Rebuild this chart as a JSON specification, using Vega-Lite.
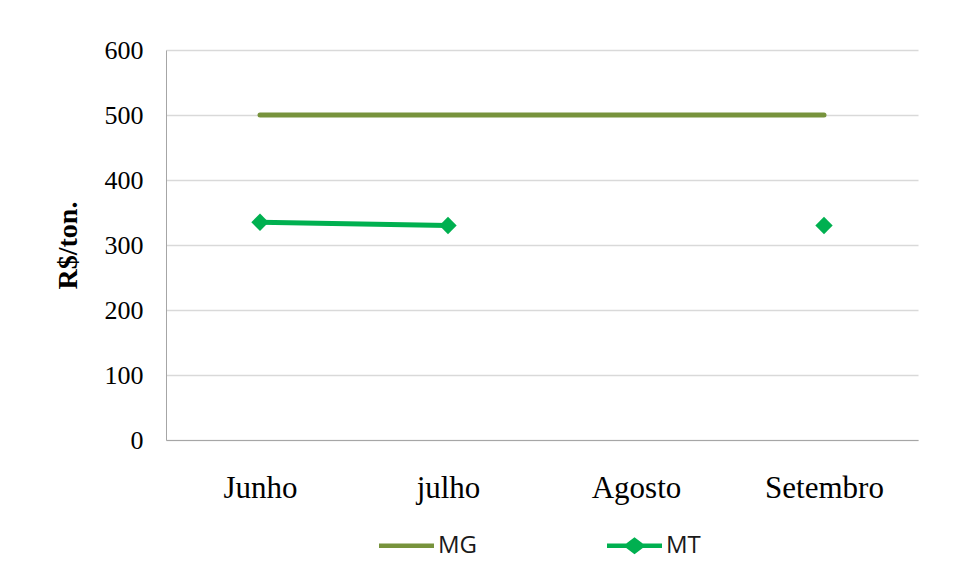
{
  "$schema": "https://vega.github.io/schema/vega-lite/v6.json",
  "width": 752,
  "height": 390,
  "autosize": "none",
  "padding": {"left": 166, "top": 50, "right": 40, "bottom": 140},
  "background": "white",
  "data": {
    "values": [
      {"mes": "Junho", "estado": "MG", "valor": 500},
      {"mes": "julho", "estado": "MG", "valor": 500},
      {"mes": "Agosto", "estado": "MG", "valor": 500},
      {"mes": "Setembro", "estado": "MG", "valor": 500},
      {"mes": "Junho", "estado": "MT", "valor": 335},
      {"mes": "julho", "estado": "MT", "valor": 330},
      {"mes": "Agosto", "estado": "MT", "valor": null},
      {"mes": "Setembro", "estado": "MT", "valor": 330}
    ]
  },
  "encoding": {
    "x": {
      "field": "mes", "type": "nominal",
      "sort": ["Junho", "julho", "Agosto", "Setembro"],
      "scale": {"paddingInner": 0, "paddingOuter": 0},
      "axis": {
        "title": null, "labelAngle": 0, "ticks": false,
        "labelFont": "Liberation Serif", "labelFontSize": 31, "labelColor": "#000",
        "labelPadding": 33, "domainColor": "#a6a6a6", "domainWidth": 1, "grid": false
      }
    },
    "y": {
      "field": "valor", "type": "quantitative",
      "scale": {"domain": [0, 600]},
      "axis": {
        "title": "R$/ton.", "titleFont": "Liberation Serif", "titleFontSize": 28,
        "titleFontWeight": "bold", "titleColor": "#000", "titlePadding": 22,
        "values": [0, 100, 200, 300, 400, 500, 600],
        "ticks": false, "labelFont": "Liberation Serif", "labelFontSize": 26,
        "labelColor": "#000", "labelPadding": 23,
        "domainColor": "#a6a6a6", "gridColor": "#d9d9d9", "gridWidth": 1.3
      }
    }
  },
  "layer": [
    {
      "transform": [{"filter": "datum.estado == 'MG'"}],
      "mark": {"type": "line", "strokeWidth": 5, "strokeCap": "round", "color": "#77933C"}
    },
    {
      "transform": [{"filter": "datum.estado == 'MT'"}],
      "mark": {"type": "line", "strokeWidth": 5, "strokeCap": "round", "color": "#00B050", "invalid": "break-paths-filter-domains"}
    },
    {
      "transform": [{"filter": "datum.estado == 'MT' && isValid(datum.valor)"}],
      "mark": {"type": "point", "shape": "diamond", "filled": true, "opacity": 1, "size": 300, "color": "#00B050"}
    },
    {
      "transform": [{"filter": "datum.valor > 10000"}],
      "mark": {"type": "point", "filled": true, "opacity": 1},
      "encoding": {
        "shape": {
          "field": "estado", "type": "nominal",
          "scale": {
            "domain": ["MG", "MT"],
            "range": [
              "M-1,-0.08L1,-0.08L1,0.08L-1,0.08Z",
              "M-1,-0.08L-0.3,-0.08L0,-0.31L0.3,-0.08L1,-0.08L1,0.08L0.3,0.08L0,0.31L-0.3,0.08L-1,0.08Z"
            ]
          },
          "legend": {
            "title": null, "orient": "none", "direction": "horizontal",
            "legendX": 213, "legendY": 468,
            "symbolSize": 3025, "symbolStrokeWidth": 0,
            "labelFont": "Open Sans", "labelFontSize": 24, "labelColor": "#1a1a1a",
            "labelOffset": 4, "columnPadding": 129
          }
        },
        "color": {
          "field": "estado", "type": "nominal",
          "scale": {"domain": ["MG", "MT"], "range": ["#77933C", "#00B050"]},
          "legend": {
            "title": null, "orient": "none", "direction": "horizontal",
            "legendX": 213, "legendY": 468,
            "symbolSize": 3025, "symbolStrokeWidth": 0,
            "labelFont": "Open Sans", "labelFontSize": 24, "labelColor": "#1a1a1a",
            "labelOffset": 4, "columnPadding": 129
          }
        }
      }
    }
  ],
  "config": {
    "view": {"stroke": null}
  }
}
